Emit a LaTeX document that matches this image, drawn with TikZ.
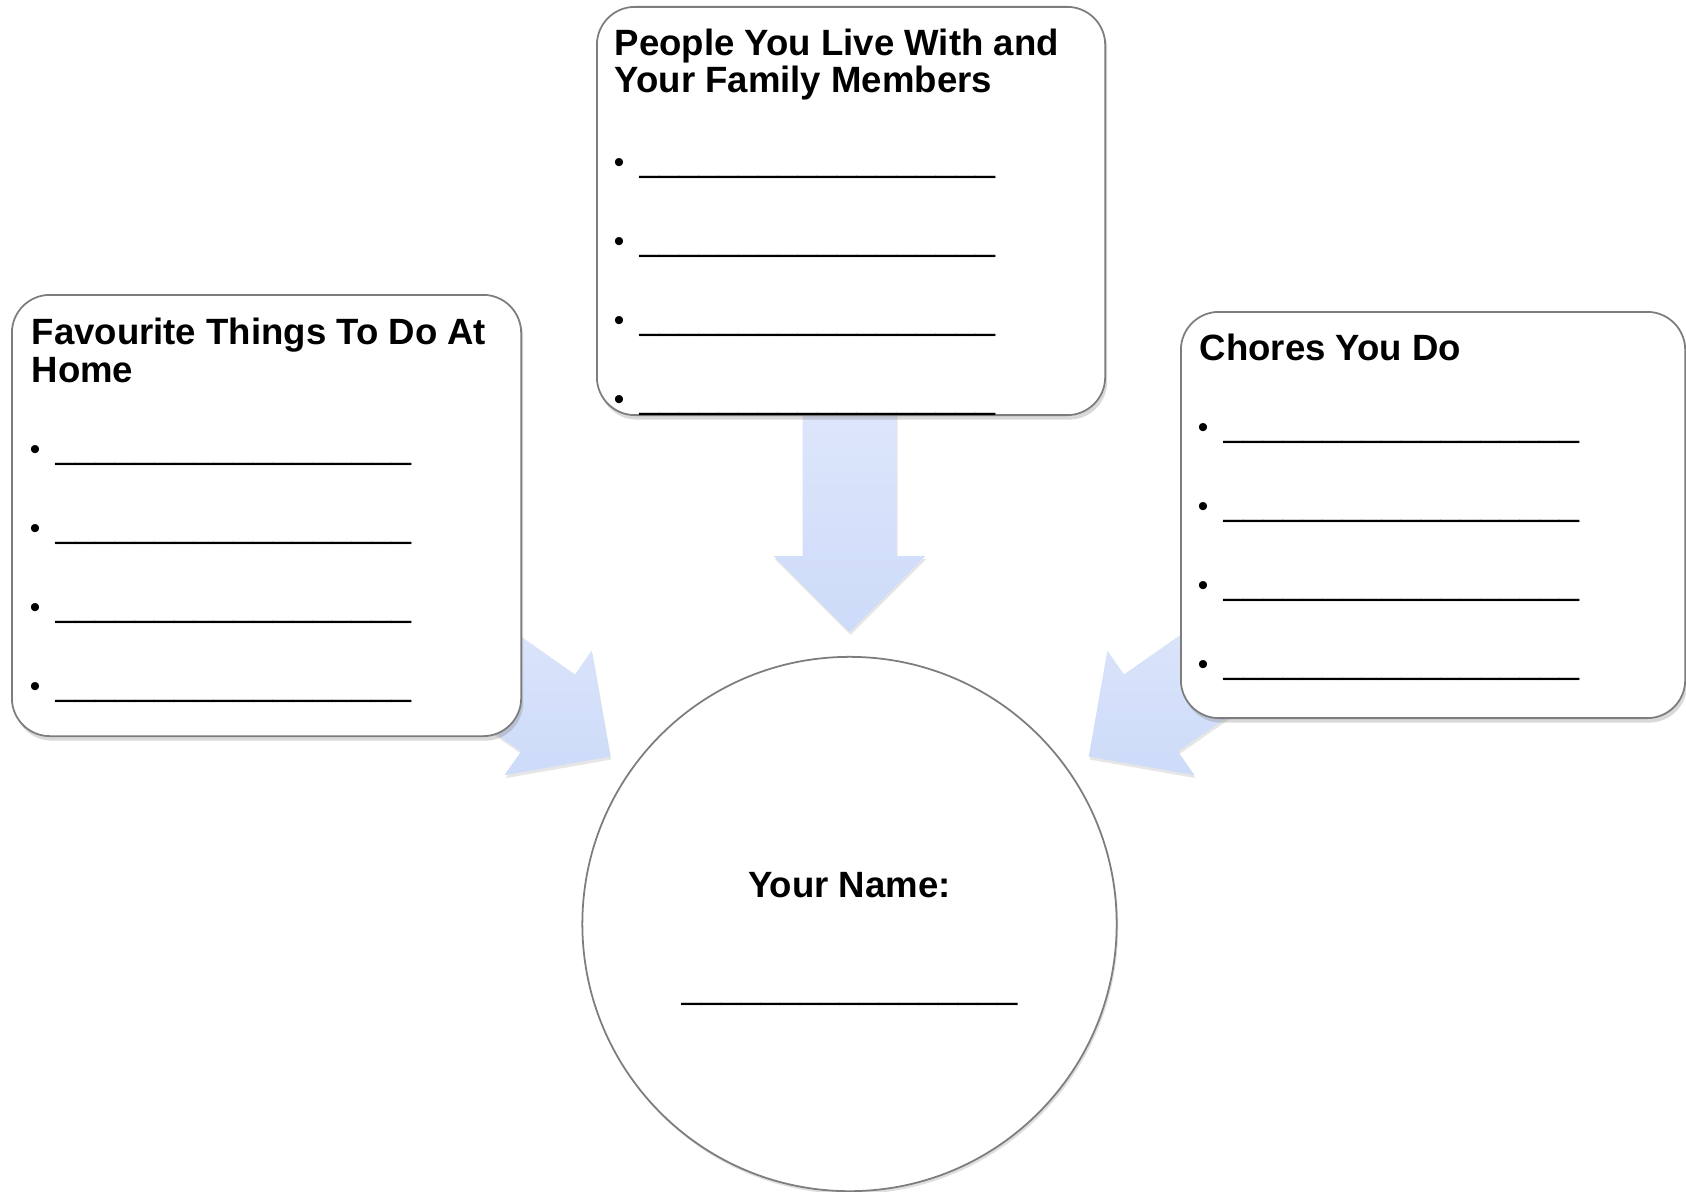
\documentclass[tikz,border=0pt]{standalone}
\usepackage{fontspec}
\setmainfont{Liberation Sans}
\usetikzlibrary{positioning,shadows}

\definecolor{rim}{RGB}{125,125,125}
\definecolor{pale}{RGB}{224,232,251}
\definecolor{deep}{RGB}{205,219,249}

\newcommand{\blankline}{\_\_\_\_\_\_\_\_\_\_\_\_\_\_\_\_\_\_}
\newcommand{\nameline}{\_\_\_\_\_\_\_\_\_\_\_\_\_\_\_\_\_}
\newcommand{\fatarrow}[1]{\begin{scope}[shift={(you.center)},rotate=#1]
	\path[flow] (292,0) -- (368,76) -- (368,47) -- (560,47)
		-- (560,-47) -- (368,-47) -- (368,-76) -- cycle;
	\end{scope}}

\begin{document}
\begin{tikzpicture}[x=0.01cm, y=-0.01cm,
	card/.style={draw=rim, line width=0.5pt, fill=white, rounded corners=0.38cm,
		anchor=north west, inner sep=0pt,
		drop shadow={shadow xshift=0.02cm, shadow yshift=-0.045cm, opacity=0.3}},
	disc/.style={circle, draw=rim, line width=0.5pt, fill=white, inner sep=0pt,
		drop shadow={shadow xshift=0.015cm, shadow yshift=-0.03cm, opacity=0.25}},
	flow/.style={top color=pale, bottom color=deep,
		drop shadow={shadow xshift=0.01cm, shadow yshift=-0.03cm, opacity=0.2}},
	head/.style={font=\fontsize{10.4pt}{10.8pt}\selectfont\bfseries, align=left,
		anchor=base west, inner sep=0pt},
	dot/.style={font=\fontsize{8.5pt}{10pt}\selectfont, inner sep=0pt},
	blank/.style={font=\fontsize{10.1pt}{12pt}\selectfont, anchor=base west, inner sep=0pt}]
\useasboundingbox (0,0) rectangle (1686,1191);
%The centre
	\node[disc, minimum size=5.34cm] (you) at (849.5,924) {};
	\node[head, anchor=base] (you-t) at (849.5,897) {Your Name:};
	\node[blank, anchor=base] (you-l) at (849.5,998) {\nameline};
%Arrows
	\fatarrow{90};
	\fatarrow{145};
	\fatarrow{35};
%The three boxes
	\node[card, minimum width=5.09cm, minimum height=4.41cm] (home) at (11,294) {};
	\node[card, minimum width=5.08cm, minimum height=4.08cm] (family) at (596,6) {};
	\node[card, minimum width=5.04cm, minimum height=4.06cm] (chores) at (1180,311) {};
%Titles (base is the last line)
	\node[head] (home-t) at (31,382) {Favourite Things To Do At\\Home};
	\node[head] (family-t) at (614,93) {People You Live With and\\Your Family Members};
	\node[head] (chores-t) at (1199,360) {Chores You Do};
%Blanks
	\foreach \i in {0,...,3}{
		\node[dot] (home-b\i) at (35,{453+79*\i}) {\textbullet};
		\node[blank] (home-l\i) at (55,{458+79*\i}) {\blankline};
		\node[dot] (family-b\i) at (619,{166+79*\i}) {\textbullet};
		\node[blank] (family-l\i) at (639,{171+79*\i}) {\blankline};
		\node[dot] (chores-b\i) at (1203,{431+79*\i}) {\textbullet};
		\node[blank] (chores-l\i) at (1223,{436+79*\i}) {\blankline};
	}
\end{tikzpicture}
\end{document}
